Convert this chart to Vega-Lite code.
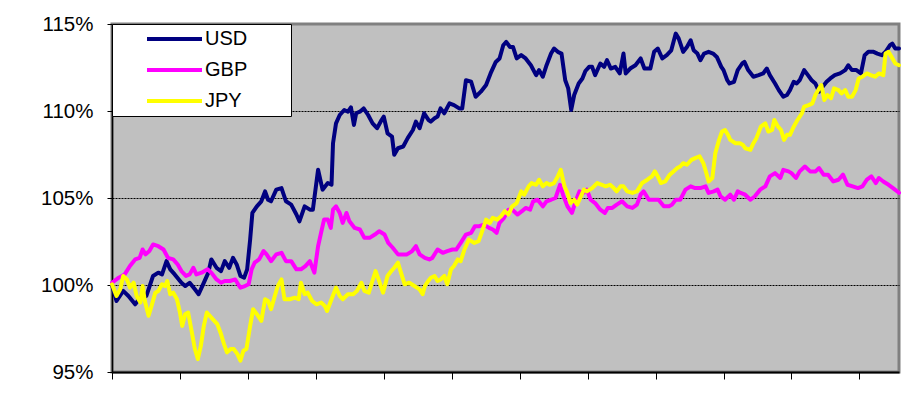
{
 "$schema": "https://vega.github.io/schema/vega-lite/v6.json",
 "width": 787, "height": 348,
 "autosize": {"type": "none"},
 "padding": {"left": 112, "top": 24, "right": 18, "bottom": 37},
 "background": "white",
 "config": {"view": {"fill": "#C0C0C0", "stroke": "#808080", "strokeWidth": 3}, "font": "Liberation Sans",
   "legend": {"fillColor": "white", "strokeColor": "black", "strokeWidth": 1}},
 "data": {"values": [
{"c":"USD","d":0,"v":100.0},{"c":"USD","d":6,"v":99.08},{"c":"USD","d":15,"v":99.66},{"c":"USD","d":22,"v":99.37},{"c":"USD","d":31,"v":98.89},{"c":"USD","d":38,"v":99.27},{"c":"USD","d":46,"v":99.37},{"c":"USD","d":55,"v":100.52},{"c":"USD","d":62,"v":100.71},{"c":"USD","d":67,"v":100.61},{"c":"USD","d":73,"v":101.37},{"c":"USD","d":78,"v":100.9},{"c":"USD","d":84,"v":100.61},{"c":"USD","d":93,"v":100.13},{"c":"USD","d":98,"v":99.94},{"c":"USD","d":104,"v":100.13},{"c":"USD","d":111,"v":99.75},{"c":"USD","d":116,"v":99.47},{"c":"USD","d":122,"v":100.04},{"c":"USD","d":129,"v":100.71},{"c":"USD","d":133,"v":101.47},{"c":"USD","d":140,"v":100.99},{"c":"USD","d":146,"v":100.8},{"c":"USD","d":151,"v":101.37},{"c":"USD","d":157,"v":100.99},{"c":"USD","d":162,"v":101.56},{"c":"USD","d":167,"v":101.18},{"c":"USD","d":172,"v":100.52},{"c":"USD","d":177,"v":100.42},{"c":"USD","d":181,"v":100.9},{"c":"USD","d":185,"v":102.61},{"c":"USD","d":188,"v":104.14},{"c":"USD","d":194,"v":104.52},{"c":"USD","d":200,"v":104.81},{"c":"USD","d":205,"v":105.38},{"c":"USD","d":209,"v":104.9},{"c":"USD","d":213,"v":104.81},{"c":"USD","d":220,"v":105.48},{"c":"USD","d":227,"v":105.57},{"c":"USD","d":233,"v":104.81},{"c":"USD","d":240,"v":104.62},{"c":"USD","d":247,"v":104.05},{"c":"USD","d":251,"v":103.66},{"c":"USD","d":258,"v":104.52},{"c":"USD","d":265,"v":104.33},{"c":"USD","d":269,"v":104.33},{"c":"USD","d":276,"v":106.62},{"c":"USD","d":282,"v":105.48},{"c":"USD","d":289,"v":105.86},{"c":"USD","d":294,"v":105.76},{"c":"USD","d":296,"v":108.15},{"c":"USD","d":300,"v":109.29},{"c":"USD","d":305,"v":109.77},{"c":"USD","d":311,"v":110.06},{"c":"USD","d":316,"v":109.96},{"c":"USD","d":320,"v":110.21},{"c":"USD","d":324,"v":109.2},{"c":"USD","d":327,"v":109.87},{"c":"USD","d":332,"v":109.96},{"c":"USD","d":337,"v":110.15},{"c":"USD","d":343,"v":109.77},{"c":"USD","d":349,"v":109.29},{"c":"USD","d":355,"v":109.01},{"c":"USD","d":361,"v":109.48},{"c":"USD","d":364,"v":109.68},{"c":"USD","d":369,"v":108.72},{"c":"USD","d":375,"v":108.53},{"c":"USD","d":378,"v":107.48},{"c":"USD","d":383,"v":107.86},{"c":"USD","d":390,"v":107.96},{"c":"USD","d":396,"v":108.44},{"c":"USD","d":403,"v":108.91},{"c":"USD","d":407,"v":109.39},{"c":"USD","d":412,"v":109.01},{"c":"USD","d":418,"v":109.87},{"c":"USD","d":424,"v":109.48},{"c":"USD","d":427,"v":109.39},{"c":"USD","d":432,"v":109.58},{"c":"USD","d":436,"v":109.68},{"c":"USD","d":440,"v":110.15},{"c":"USD","d":445,"v":109.87},{"c":"USD","d":452,"v":110.44},{"c":"USD","d":458,"v":110.34},{"c":"USD","d":465,"v":110.15},{"c":"USD","d":469,"v":110.15},{"c":"USD","d":474,"v":111.77},{"c":"USD","d":481,"v":111.68},{"c":"USD","d":487,"v":110.82},{"c":"USD","d":494,"v":111.11},{"c":"USD","d":501,"v":111.49},{"c":"USD","d":507,"v":112.16},{"c":"USD","d":514,"v":112.82},{"c":"USD","d":519,"v":113.02},{"c":"USD","d":524,"v":113.78},{"c":"USD","d":528,"v":113.97},{"c":"USD","d":533,"v":113.68},{"c":"USD","d":537,"v":113.68},{"c":"USD","d":542,"v":113.02},{"c":"USD","d":548,"v":113.21},{"c":"USD","d":554,"v":113.02},{"c":"USD","d":561,"v":112.63},{"c":"USD","d":568,"v":112.06},{"c":"USD","d":572,"v":112.35},{"c":"USD","d":577,"v":111.97},{"c":"USD","d":582,"v":112.63},{"c":"USD","d":588,"v":113.3},{"c":"USD","d":592,"v":113.59},{"c":"USD","d":597,"v":113.4},{"c":"USD","d":602,"v":113.3},{"c":"USD","d":607,"v":111.77},{"c":"USD","d":611,"v":111.3},{"c":"USD","d":615,"v":110.06},{"c":"USD","d":619,"v":110.92},{"c":"USD","d":625,"v":111.58},{"c":"USD","d":630,"v":111.87},{"c":"USD","d":634,"v":112.3},{"c":"USD","d":639,"v":112.54},{"c":"USD","d":643,"v":112.54},{"c":"USD","d":647,"v":112.06},{"c":"USD","d":654,"v":112.73},{"c":"USD","d":659,"v":112.54},{"c":"USD","d":663,"v":112.92},{"c":"USD","d":668,"v":112.44},{"c":"USD","d":674,"v":112.54},{"c":"USD","d":680,"v":112.16},{"c":"USD","d":685,"v":113.3},{"c":"USD","d":688,"v":112.16},{"c":"USD","d":694,"v":112.44},{"c":"USD","d":701,"v":112.63},{"c":"USD","d":708,"v":113.02},{"c":"USD","d":713,"v":112.44},{"c":"USD","d":721,"v":112.44},{"c":"USD","d":726,"v":113.4},{"c":"USD","d":731,"v":113.59},{"c":"USD","d":737,"v":113.02},{"c":"USD","d":743,"v":113.21},{"c":"USD","d":749,"v":113.49},{"c":"USD","d":755,"v":114.45},{"c":"USD","d":759,"v":114.16},{"c":"USD","d":765,"v":113.4},{"c":"USD","d":770,"v":113.68},{"c":"USD","d":775,"v":114.06},{"c":"USD","d":779,"v":113.49},{"c":"USD","d":784,"v":113.3},{"c":"USD","d":788,"v":112.92},{"c":"USD","d":793,"v":113.3},{"c":"USD","d":799,"v":113.4},{"c":"USD","d":805,"v":113.3},{"c":"USD","d":810,"v":113.11},{"c":"USD","d":816,"v":112.54},{"c":"USD","d":819,"v":112.35},{"c":"USD","d":824,"v":111.77},{"c":"USD","d":827,"v":111.58},{"c":"USD","d":833,"v":111.68},{"c":"USD","d":838,"v":112.35},{"c":"USD","d":844,"v":112.73},{"c":"USD","d":847,"v":112.82},{"c":"USD","d":852,"v":112.35},{"c":"USD","d":859,"v":111.97},{"c":"USD","d":866,"v":112.06},{"c":"USD","d":872,"v":112.16},{"c":"USD","d":877,"v":112.44},{"c":"USD","d":881,"v":112.06},{"c":"USD","d":888,"v":111.58},{"c":"USD","d":893,"v":111.2},{"c":"USD","d":899,"v":110.82},{"c":"USD","d":904,"v":110.92},{"c":"USD","d":908,"v":111.2},{"c":"USD","d":913,"v":111.68},{"c":"USD","d":917,"v":111.58},{"c":"USD","d":921,"v":111.77},{"c":"USD","d":927,"v":112.35},{"c":"USD","d":932,"v":112.06},{"c":"USD","d":937,"v":111.77},{"c":"USD","d":942,"v":111.58},{"c":"USD","d":947,"v":111.11},{"c":"USD","d":950,"v":111.3},{"c":"USD","d":957,"v":111.68},{"c":"USD","d":962,"v":111.87},{"c":"USD","d":968,"v":112.06},{"c":"USD","d":975,"v":112.16},{"c":"USD","d":982,"v":112.35},{"c":"USD","d":986,"v":112.63},{"c":"USD","d":991,"v":112.35},{"c":"USD","d":997,"v":112.35},{"c":"USD","d":1003,"v":112.16},{"c":"USD","d":1008,"v":113.21},{"c":"USD","d":1013,"v":113.4},{"c":"USD","d":1020,"v":113.4},{"c":"USD","d":1025,"v":113.3},{"c":"USD","d":1031,"v":113.21},{"c":"USD","d":1036,"v":113.4},{"c":"USD","d":1042,"v":113.78},{"c":"USD","d":1045,"v":113.87},{"c":"USD","d":1049,"v":113.59},{"c":"USD","d":1054,"v":113.59},
{"c":"GBP","d":0,"v":100.13},{"c":"GBP","d":9,"v":100.42},{"c":"GBP","d":17,"v":100.61},{"c":"GBP","d":24,"v":101.09},{"c":"GBP","d":31,"v":101.47},{"c":"GBP","d":37,"v":101.56},{"c":"GBP","d":41,"v":102.04},{"c":"GBP","d":45,"v":101.76},{"c":"GBP","d":50,"v":101.95},{"c":"GBP","d":55,"v":102.33},{"c":"GBP","d":62,"v":102.23},{"c":"GBP","d":69,"v":102.04},{"c":"GBP","d":75,"v":101.56},{"c":"GBP","d":82,"v":101.47},{"c":"GBP","d":88,"v":101.18},{"c":"GBP","d":93,"v":100.8},{"c":"GBP","d":99,"v":100.52},{"c":"GBP","d":104,"v":100.61},{"c":"GBP","d":109,"v":100.99},{"c":"GBP","d":113,"v":100.61},{"c":"GBP","d":120,"v":100.71},{"c":"GBP","d":128,"v":100.9},{"c":"GBP","d":133,"v":100.71},{"c":"GBP","d":140,"v":100.32},{"c":"GBP","d":146,"v":100.13},{"c":"GBP","d":151,"v":100.23},{"c":"GBP","d":158,"v":100.23},{"c":"GBP","d":165,"v":100.32},{"c":"GBP","d":169,"v":100.04},{"c":"GBP","d":172,"v":99.85},{"c":"GBP","d":178,"v":99.94},{"c":"GBP","d":183,"v":100.04},{"c":"GBP","d":187,"v":100.9},{"c":"GBP","d":191,"v":101.28},{"c":"GBP","d":197,"v":101.47},{"c":"GBP","d":203,"v":101.95},{"c":"GBP","d":207,"v":101.76},{"c":"GBP","d":213,"v":101.37},{"c":"GBP","d":220,"v":101.76},{"c":"GBP","d":227,"v":101.85},{"c":"GBP","d":233,"v":101.37},{"c":"GBP","d":240,"v":101.37},{"c":"GBP","d":247,"v":100.9},{"c":"GBP","d":253,"v":100.9},{"c":"GBP","d":259,"v":101.09},{"c":"GBP","d":265,"v":101.37},{"c":"GBP","d":271,"v":100.71},{"c":"GBP","d":276,"v":102.23},{"c":"GBP","d":280,"v":103.0},{"c":"GBP","d":284,"v":103.76},{"c":"GBP","d":289,"v":103.76},{"c":"GBP","d":293,"v":103.28},{"c":"GBP","d":296,"v":104.33},{"c":"GBP","d":300,"v":104.52},{"c":"GBP","d":305,"v":104.14},{"c":"GBP","d":309,"v":103.57},{"c":"GBP","d":314,"v":104.14},{"c":"GBP","d":318,"v":103.66},{"c":"GBP","d":325,"v":103.28},{"c":"GBP","d":332,"v":103.19},{"c":"GBP","d":338,"v":102.71},{"c":"GBP","d":345,"v":102.71},{"c":"GBP","d":352,"v":102.9},{"c":"GBP","d":358,"v":103.09},{"c":"GBP","d":365,"v":102.9},{"c":"GBP","d":370,"v":102.42},{"c":"GBP","d":376,"v":102.14},{"c":"GBP","d":383,"v":101.76},{"c":"GBP","d":390,"v":101.76},{"c":"GBP","d":395,"v":101.76},{"c":"GBP","d":402,"v":101.95},{"c":"GBP","d":407,"v":102.23},{"c":"GBP","d":412,"v":101.76},{"c":"GBP","d":419,"v":101.56},{"c":"GBP","d":425,"v":101.47},{"c":"GBP","d":429,"v":101.56},{"c":"GBP","d":436,"v":102.04},{"c":"GBP","d":443,"v":101.85},{"c":"GBP","d":449,"v":101.95},{"c":"GBP","d":456,"v":102.04},{"c":"GBP","d":461,"v":102.04},{"c":"GBP","d":467,"v":102.42},{"c":"GBP","d":474,"v":102.9},{"c":"GBP","d":481,"v":103.0},{"c":"GBP","d":486,"v":103.38},{"c":"GBP","d":492,"v":103.38},{"c":"GBP","d":498,"v":103.47},{"c":"GBP","d":505,"v":103.28},{"c":"GBP","d":510,"v":103.19},{"c":"GBP","d":515,"v":103.0},{"c":"GBP","d":519,"v":103.57},{"c":"GBP","d":525,"v":103.86},{"c":"GBP","d":531,"v":104.33},{"c":"GBP","d":536,"v":104.33},{"c":"GBP","d":543,"v":104.05},{"c":"GBP","d":549,"v":104.24},{"c":"GBP","d":554,"v":104.43},{"c":"GBP","d":560,"v":104.33},{"c":"GBP","d":564,"v":104.81},{"c":"GBP","d":570,"v":104.9},{"c":"GBP","d":577,"v":104.52},{"c":"GBP","d":582,"v":104.81},{"c":"GBP","d":588,"v":104.9},{"c":"GBP","d":594,"v":105.0},{"c":"GBP","d":600,"v":105.76},{"c":"GBP","d":604,"v":105.19},{"c":"GBP","d":610,"v":104.52},{"c":"GBP","d":616,"v":104.14},{"c":"GBP","d":621,"v":104.81},{"c":"GBP","d":626,"v":105.38},{"c":"GBP","d":631,"v":105.29},{"c":"GBP","d":636,"v":105.48},{"c":"GBP","d":641,"v":104.9},{"c":"GBP","d":647,"v":104.71},{"c":"GBP","d":654,"v":104.33},{"c":"GBP","d":660,"v":104.14},{"c":"GBP","d":664,"v":104.43},{"c":"GBP","d":670,"v":104.43},{"c":"GBP","d":676,"v":104.62},{"c":"GBP","d":683,"v":104.81},{"c":"GBP","d":690,"v":104.52},{"c":"GBP","d":697,"v":104.43},{"c":"GBP","d":703,"v":104.62},{"c":"GBP","d":708,"v":105.19},{"c":"GBP","d":712,"v":105.38},{"c":"GBP","d":719,"v":104.9},{"c":"GBP","d":726,"v":104.9},{"c":"GBP","d":732,"v":104.9},{"c":"GBP","d":739,"v":104.52},{"c":"GBP","d":746,"v":104.52},{"c":"GBP","d":750,"v":104.62},{"c":"GBP","d":755,"v":104.9},{"c":"GBP","d":761,"v":104.9},{"c":"GBP","d":768,"v":105.48},{"c":"GBP","d":775,"v":105.67},{"c":"GBP","d":781,"v":105.57},{"c":"GBP","d":788,"v":105.57},{"c":"GBP","d":795,"v":105.67},{"c":"GBP","d":799,"v":105.29},{"c":"GBP","d":806,"v":105.38},{"c":"GBP","d":811,"v":105.48},{"c":"GBP","d":815,"v":105.1},{"c":"GBP","d":821,"v":104.9},{"c":"GBP","d":828,"v":105.19},{"c":"GBP","d":833,"v":104.9},{"c":"GBP","d":838,"v":105.38},{"c":"GBP","d":842,"v":105.29},{"c":"GBP","d":848,"v":105.19},{"c":"GBP","d":855,"v":104.9},{"c":"GBP","d":861,"v":105.1},{"c":"GBP","d":868,"v":105.48},{"c":"GBP","d":875,"v":105.67},{"c":"GBP","d":881,"v":106.24},{"c":"GBP","d":888,"v":106.43},{"c":"GBP","d":895,"v":106.15},{"c":"GBP","d":899,"v":106.62},{"c":"GBP","d":906,"v":106.53},{"c":"GBP","d":910,"v":106.43},{"c":"GBP","d":916,"v":106.15},{"c":"GBP","d":921,"v":106.53},{"c":"GBP","d":928,"v":106.81},{"c":"GBP","d":935,"v":106.53},{"c":"GBP","d":942,"v":106.53},{"c":"GBP","d":947,"v":106.72},{"c":"GBP","d":953,"v":106.34},{"c":"GBP","d":959,"v":106.34},{"c":"GBP","d":966,"v":105.95},{"c":"GBP","d":973,"v":106.05},{"c":"GBP","d":979,"v":106.34},{"c":"GBP","d":985,"v":105.76},{"c":"GBP","d":992,"v":105.67},{"c":"GBP","d":999,"v":105.57},{"c":"GBP","d":1005,"v":105.67},{"c":"GBP","d":1011,"v":106.05},{"c":"GBP","d":1017,"v":106.24},{"c":"GBP","d":1023,"v":105.86},{"c":"GBP","d":1027,"v":106.15},{"c":"GBP","d":1033,"v":105.95},{"c":"GBP","d":1040,"v":105.76},{"c":"GBP","d":1046,"v":105.57},{"c":"GBP","d":1054,"v":105.3},
{"c":"JPY","d":0,"v":100.04},{"c":"JPY","d":6,"v":99.37},{"c":"JPY","d":11,"v":99.75},{"c":"JPY","d":15,"v":100.52},{"c":"JPY","d":20,"v":100.32},{"c":"JPY","d":24,"v":99.85},{"c":"JPY","d":29,"v":100.13},{"c":"JPY","d":33,"v":99.37},{"c":"JPY","d":38,"v":98.99},{"c":"JPY","d":41,"v":99.94},{"c":"JPY","d":44,"v":99.08},{"c":"JPY","d":49,"v":98.23},{"c":"JPY","d":53,"v":98.8},{"c":"JPY","d":58,"v":99.56},{"c":"JPY","d":62,"v":99.66},{"c":"JPY","d":67,"v":100.04},{"c":"JPY","d":71,"v":99.94},{"c":"JPY","d":74,"v":100.23},{"c":"JPY","d":78,"v":99.47},{"c":"JPY","d":82,"v":99.56},{"c":"JPY","d":87,"v":99.18},{"c":"JPY","d":91,"v":98.42},{"c":"JPY","d":94,"v":97.65},{"c":"JPY","d":98,"v":98.32},{"c":"JPY","d":102,"v":98.42},{"c":"JPY","d":107,"v":97.27},{"c":"JPY","d":111,"v":96.32},{"c":"JPY","d":115,"v":95.74},{"c":"JPY","d":119,"v":96.51},{"c":"JPY","d":123,"v":97.65},{"c":"JPY","d":127,"v":98.42},{"c":"JPY","d":131,"v":98.23},{"c":"JPY","d":137,"v":97.94},{"c":"JPY","d":141,"v":97.75},{"c":"JPY","d":146,"v":97.18},{"c":"JPY","d":150,"v":96.6},{"c":"JPY","d":154,"v":96.13},{"c":"JPY","d":159,"v":96.32},{"c":"JPY","d":163,"v":96.32},{"c":"JPY","d":168,"v":96.03},{"c":"JPY","d":172,"v":95.65},{"c":"JPY","d":176,"v":96.22},{"c":"JPY","d":180,"v":96.32},{"c":"JPY","d":185,"v":97.65},{"c":"JPY","d":189,"v":98.61},{"c":"JPY","d":194,"v":98.32},{"c":"JPY","d":200,"v":97.94},{"c":"JPY","d":205,"v":99.18},{"c":"JPY","d":209,"v":99.08},{"c":"JPY","d":213,"v":98.61},{"c":"JPY","d":218,"v":99.37},{"c":"JPY","d":222,"v":99.94},{"c":"JPY","d":227,"v":100.32},{"c":"JPY","d":231,"v":99.18},{"c":"JPY","d":238,"v":99.18},{"c":"JPY","d":245,"v":99.27},{"c":"JPY","d":250,"v":99.18},{"c":"JPY","d":253,"v":100.13},{"c":"JPY","d":258,"v":99.47},{"c":"JPY","d":262,"v":99.56},{"c":"JPY","d":268,"v":99.08},{"c":"JPY","d":274,"v":98.89},{"c":"JPY","d":280,"v":98.99},{"c":"JPY","d":285,"v":98.8},{"c":"JPY","d":288,"v":98.51},{"c":"JPY","d":294,"v":99.18},{"c":"JPY","d":300,"v":99.85},{"c":"JPY","d":305,"v":99.37},{"c":"JPY","d":309,"v":99.18},{"c":"JPY","d":316,"v":99.47},{"c":"JPY","d":323,"v":99.47},{"c":"JPY","d":328,"v":99.66},{"c":"JPY","d":334,"v":100.13},{"c":"JPY","d":338,"v":99.66},{"c":"JPY","d":344,"v":99.56},{"c":"JPY","d":348,"v":100.13},{"c":"JPY","d":353,"v":100.8},{"c":"JPY","d":357,"v":100.32},{"c":"JPY","d":363,"v":99.56},{"c":"JPY","d":369,"v":100.52},{"c":"JPY","d":374,"v":100.8},{"c":"JPY","d":378,"v":100.99},{"c":"JPY","d":383,"v":101.28},{"c":"JPY","d":387,"v":100.71},{"c":"JPY","d":392,"v":100.04},{"c":"JPY","d":398,"v":100.13},{"c":"JPY","d":405,"v":99.94},{"c":"JPY","d":412,"v":99.75},{"c":"JPY","d":416,"v":99.47},{"c":"JPY","d":419,"v":99.94},{"c":"JPY","d":423,"v":100.2},{"c":"JPY","d":427,"v":100.42},{"c":"JPY","d":432,"v":100.52},{"c":"JPY","d":436,"v":100.23},{"c":"JPY","d":440,"v":100.32},{"c":"JPY","d":445,"v":100.52},{"c":"JPY","d":449,"v":100.04},{"c":"JPY","d":454,"v":100.9},{"c":"JPY","d":458,"v":101.09},{"c":"JPY","d":463,"v":101.47},{"c":"JPY","d":467,"v":101.37},{"c":"JPY","d":472,"v":102.04},{"c":"JPY","d":478,"v":102.61},{"c":"JPY","d":485,"v":102.42},{"c":"JPY","d":491,"v":102.52},{"c":"JPY","d":495,"v":103.0},{"c":"JPY","d":501,"v":103.76},{"c":"JPY","d":506,"v":103.57},{"c":"JPY","d":510,"v":103.86},{"c":"JPY","d":516,"v":103.76},{"c":"JPY","d":521,"v":103.95},{"c":"JPY","d":526,"v":104.24},{"c":"JPY","d":531,"v":104.05},{"c":"JPY","d":536,"v":104.52},{"c":"JPY","d":542,"v":104.71},{"c":"JPY","d":548,"v":105.38},{"c":"JPY","d":552,"v":105.19},{"c":"JPY","d":558,"v":105.67},{"c":"JPY","d":562,"v":105.86},{"c":"JPY","d":568,"v":105.76},{"c":"JPY","d":572,"v":106.05},{"c":"JPY","d":577,"v":105.67},{"c":"JPY","d":582,"v":105.86},{"c":"JPY","d":586,"v":105.76},{"c":"JPY","d":592,"v":105.86},{"c":"JPY","d":597,"v":106.24},{"c":"JPY","d":601,"v":106.62},{"c":"JPY","d":606,"v":105.67},{"c":"JPY","d":610,"v":105.29},{"c":"JPY","d":614,"v":104.71},{"c":"JPY","d":619,"v":104.9},{"c":"JPY","d":623,"v":104.62},{"c":"JPY","d":628,"v":105.1},{"c":"JPY","d":632,"v":105.48},{"c":"JPY","d":636,"v":105.38},{"c":"JPY","d":643,"v":105.57},{"c":"JPY","d":650,"v":105.86},{"c":"JPY","d":656,"v":105.76},{"c":"JPY","d":661,"v":105.67},{"c":"JPY","d":667,"v":105.76},{"c":"JPY","d":672,"v":105.57},{"c":"JPY","d":676,"v":105.38},{"c":"JPY","d":681,"v":105.67},{"c":"JPY","d":685,"v":105.67},{"c":"JPY","d":690,"v":105.38},{"c":"JPY","d":697,"v":105.29},{"c":"JPY","d":703,"v":105.38},{"c":"JPY","d":710,"v":105.86},{"c":"JPY","d":717,"v":106.05},{"c":"JPY","d":723,"v":106.24},{"c":"JPY","d":727,"v":106.53},{"c":"JPY","d":731,"v":106.24},{"c":"JPY","d":735,"v":105.86},{"c":"JPY","d":741,"v":105.95},{"c":"JPY","d":747,"v":106.34},{"c":"JPY","d":752,"v":106.53},{"c":"JPY","d":757,"v":106.72},{"c":"JPY","d":761,"v":106.81},{"c":"JPY","d":765,"v":107.0},{"c":"JPY","d":770,"v":106.91},{"c":"JPY","d":776,"v":107.19},{"c":"JPY","d":781,"v":107.29},{"c":"JPY","d":787,"v":107.39},{"c":"JPY","d":792,"v":107.0},{"c":"JPY","d":796,"v":106.43},{"c":"JPY","d":799,"v":105.95},{"c":"JPY","d":804,"v":106.15},{"c":"JPY","d":808,"v":107.58},{"c":"JPY","d":813,"v":108.34},{"c":"JPY","d":817,"v":108.82},{"c":"JPY","d":821,"v":108.91},{"c":"JPY","d":825,"v":108.63},{"c":"JPY","d":828,"v":108.34},{"c":"JPY","d":835,"v":108.15},{"c":"JPY","d":841,"v":108.15},{"c":"JPY","d":845,"v":108.05},{"c":"JPY","d":848,"v":107.86},{"c":"JPY","d":855,"v":107.77},{"c":"JPY","d":859,"v":108.15},{"c":"JPY","d":863,"v":108.44},{"c":"JPY","d":869,"v":109.1},{"c":"JPY","d":875,"v":109.29},{"c":"JPY","d":879,"v":108.82},{"c":"JPY","d":884,"v":108.91},{"c":"JPY","d":887,"v":109.48},{"c":"JPY","d":892,"v":109.1},{"c":"JPY","d":896,"v":108.91},{"c":"JPY","d":900,"v":108.34},{"c":"JPY","d":904,"v":108.63},{"c":"JPY","d":908,"v":108.63},{"c":"JPY","d":913,"v":109.1},{"c":"JPY","d":918,"v":109.48},{"c":"JPY","d":924,"v":109.87},{"c":"JPY","d":927,"v":110.25},{"c":"JPY","d":933,"v":110.34},{"c":"JPY","d":938,"v":110.44},{"c":"JPY","d":942,"v":110.92},{"c":"JPY","d":947,"v":111.3},{"c":"JPY","d":950,"v":111.49},{"c":"JPY","d":954,"v":110.63},{"c":"JPY","d":958,"v":110.92},{"c":"JPY","d":963,"v":110.73},{"c":"JPY","d":967,"v":111.3},{"c":"JPY","d":973,"v":111.2},{"c":"JPY","d":977,"v":111.01},{"c":"JPY","d":982,"v":111.2},{"c":"JPY","d":986,"v":110.82},{"c":"JPY","d":991,"v":110.82},{"c":"JPY","d":996,"v":111.2},{"c":"JPY","d":1000,"v":111.87},{"c":"JPY","d":1005,"v":111.97},{"c":"JPY","d":1011,"v":112.16},{"c":"JPY","d":1016,"v":112.06},{"c":"JPY","d":1022,"v":111.97},{"c":"JPY","d":1027,"v":112.16},{"c":"JPY","d":1033,"v":112.06},{"c":"JPY","d":1036,"v":113.3},{"c":"JPY","d":1040,"v":113.4},{"c":"JPY","d":1044,"v":113.11},{"c":"JPY","d":1049,"v":112.73},{"c":"JPY","d":1054,"v":112.63}
 ]},
 "mark": {"type": "line", "strokeWidth": 4, "strokeJoin": "round", "strokeCap": "round"},
 "encoding": {
  "x": {"field": "d", "type": "quantitative",
   "scale": {"domain": [0, 1054], "nice": false, "zero": false},
   "axis": {"values": [0, 91, 182, 273, 364, 455, 546, 637, 728, 819, 910, 1001], "labels": false, "title": null, "grid": false,
    "tickSize": 7, "tickColor": "black", "tickWidth": 1, "domainColor": "black", "domainWidth": 2}},
  "y": {"field": "v", "type": "quantitative",
   "scale": {"domain": [95, 115], "nice": false, "zero": false},
   "axis": {"values": [95, 100, 105, 110, 115], "title": null, "labelExpr": "datum.value + '%'",
    "labelFont": "Liberation Sans", "labelFontSize": 20.5, "labelColor": "black", "labelPadding": 14,
    "tickSize": 5, "tickColor": "black", "domainColor": "black", "domainWidth": 1.5,
    "grid": true, "gridColor": "black", "gridDash": [2, 1], "gridWidth": 1,
    "gridOpacity": {"condition": {"test": "datum.value == 95 || datum.value == 115", "value": 0}, "value": 1}}},
  "color": {"field": "c", "type": "nominal",
   "scale": {"domain": ["USD", "GBP", "JPY"], "range": ["#000080", "#FF00FF", "#FFFF00"]},
   "legend": {"orient": "none", "legendX": 0, "legendY": 0, "title": null,
    "symbolType": "stroke", "symbolSize": 3025, "symbolStrokeWidth": 4,
    "labelFont": "Liberation Sans", "labelFontSize": 20, "labelColor": "black",
    "padding": 5, "clipHeight": 20, "rowPadding": 11, "symbolOffset": 28, "labelOffset": 1,
    "fillColor": "white", "strokeColor": "black",
    "encode": {"entries": {"update": {"width": {"value": 169}}}}}}
 }
}
